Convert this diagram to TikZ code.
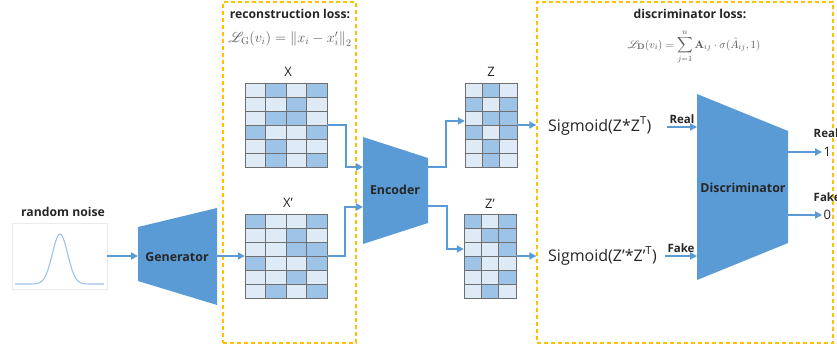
\documentclass[tikz,border=0pt]{standalone}
\usepackage{amsmath}
\usepackage{mathrsfs}
\usepackage[no-math]{fontspec}
\setmainfont{Open Sans}
\usetikzlibrary{arrows.meta}

\definecolor{blk}{HTML}{5B9BD5}
\definecolor{cellD}{HTML}{9DC3E6}
\definecolor{cellL}{HTML}{DEEBF7}
\definecolor{gridln}{HTML}{6F6F6F}
\definecolor{orng}{HTML}{FFC000}
\definecolor{txt}{HTML}{262626}
\definecolor{frm}{HTML}{595959}

% draws a matrix of cells: x0, y0, cell width, cell height, rows of 0/1
\newcommand\cellgrid[5]{%
  \foreach \row [count=\r] in {#5} {
    \foreach \v [count=\c] in \row {
      \ifnum\v=1 \def\cc{cellD}\else\def\cc{cellL}\fi
      \filldraw[fill=\cc, draw=gridln, line width=0.7pt]
        ({#1+(\c-1)*#3},{#2+(\r-1)*#4}) rectangle ++(#3,#4);
    }
  }
}

\begin{document}
\begin{tikzpicture}[x=1pt,y=-1pt,
  arr/.style={draw=blk, line width=1.8pt, -{Triangle[length=7pt,width=7pt]}},
  lossbox/.style={draw=orng, line width=1.4pt, dash pattern=on 4pt off 3pt,
    inner sep=0pt},
  blocklbl/.style={font=\bfseries\fontsize{12.4}{14}\selectfont, text=txt},
  lbl/.style={font=\bfseries\fontsize{11.5}{13}\selectfont, text=txt, inner sep=1.5pt},
  num/.style={font=\fontsize{13}{15}\selectfont, text=txt, inner sep=1.5pt},
  head/.style={font=\bfseries\fontsize{12.2}{14}\selectfont, text=txt, inner sep=0pt},
  mlbl/.style={font=\fontsize{13}{15}\selectfont, text=txt},
  sig/.style={font=\fontsize{16}{18}\selectfont, text=txt, inner sep=2pt},
  gridbox/.style={inner sep=0pt}
]
\useasboundingbox[fill=white] (0,0) rectangle (837,351);

% loss regions
\node[lossbox, minimum width=133pt, minimum height=341pt] (rloss) at (289.5,172.5) {};
\node[lossbox, minimum width=296pt, minimum height=341pt] (dloss) at (685,172.5) {};
\node[head] (rhead) at (290,14) {reconstruction loss:};
\node[text=frm, font=\fontsize{14.5}{16}\selectfont, inner sep=0pt] (rform) at (290,39)
  {$\mathscr{L}_{\mathrm{G}}(v_i) = \left\| x_i - x_i' \right\|_2$};
\node[head] (dhead) at (690,14) {discriminator loss:};
\node[text=frm, font=\fontsize{11}{13}\selectfont, inner sep=0pt] (dform) at (694,47)
  {$\displaystyle \mathscr{L}_{\mathbf{D}}(v_i) = \sum_{j=1}^{n} \mathbf{A}_{ij}\cdot\sigma(\hat{A}_{ij},1)$};

% random noise
\node[draw=black!8, line width=0.6pt, minimum width=95pt, minimum height=66pt] (noise) at (59.5,256) {};
\draw[cellD, line width=1.1pt] plot[domain=15:104, samples=90]
  (\x, {284-50*exp(-((\x-60)/7.6)^2/2)});
\node[head] (nlbl) at (63,212) {random noise};

% generator
\fill[blk] (138,227) -- (217,208) -- (217,305) -- (138,281) -- cycle;
\node[blocklbl] (gen) at (177,257) {Generator};
\coordinate (genin) at (138,256);
\coordinate (genout) at (217,256);

% matrices
\cellgrid{245}{83}{20.5}{14}{{0,1,0,1},{0,0,1,0},{0,1,1,0},{1,0,0,1},{0,1,0,0},{0,1,0,1}}
\cellgrid{245}{214}{20.5}{14}{{1,0,0,1},{0,0,1,0},{0,0,1,1},{1,0,0,1},{0,0,1,0},{0,1,0,1}}
\cellgrid{465}{83}{17.33}{14}{{0,1,0},{1,0,1},{0,1,1},{1,0,1},{0,1,0},{0,1,0}}
\cellgrid{464}{214}{17.33}{14}{{1,0,1},{0,1,1},{0,0,1},{1,0,0},{0,0,1},{0,1,0}}
\node[gridbox, minimum width=82pt, minimum height=84pt] (X) at (286,125) {};
\node[gridbox, minimum width=82pt, minimum height=84pt] (Xp) at (286,256) {};
\node[gridbox, minimum width=52pt, minimum height=84pt] (Z) at (491,125) {};
\node[gridbox, minimum width=52pt, minimum height=84pt] (Zp) at (490,256) {};
\node[mlbl] (Xl) at (288,72) {X};
\node[mlbl] (Xpl) at (288,203) {X’};
\node[mlbl] (Zl) at (491,72) {Z};
\node[mlbl] (Zpl) at (490,204) {Z’};

% encoder
\fill[blk] (363,137) -- (428,158) -- (428,223) -- (363,244) -- cycle;
\node[blocklbl] (enc) at (395,190) {Encoder};
\coordinate (encA) at (363,167);
\coordinate (encB) at (363,207);
\coordinate (encC) at (428,167);
\coordinate (encD) at (428,206);

% discriminator
\fill[blk] (697,94) -- (788,131) -- (788,243) -- (697,280) -- cycle;
\node[blocklbl] (disc) at (743,188) {Discriminator};
\coordinate (dinR) at (697,127);
\coordinate (dinF) at (697,256);
\coordinate (doutR) at (788,152);
\coordinate (doutF) at (788,215);

% sigmoid products
\node[sig, anchor=west] (s1) at (546,126) {Sigmoid(Z*Z\textsuperscript{T})};
\node[sig, anchor=west] (s2) at (546,256) {Sigmoid(Z’*Z’\textsuperscript{T})};

% outputs
\node[num, anchor=west] (o1) at (822,152) {1};
\node[num, anchor=west] (o0) at (822,215) {0};
\node[lbl, anchor=west] (oR) at (812,133) {Real};
\node[lbl, anchor=west] (oF) at (812,197) {Fake};

% connectors
\draw[arr] (noise.east) -- (genin);
\draw[arr] (genout) -- (Xp.west);
\draw[arr] (X.east) -- ++(19,0) |- (encA);
\draw[arr] (Xp.east) -- ++(18,0) |- (encB);
\draw[arr] (encC) -- ++(18,0) |- ([yshift=4pt]Z.west);
\draw[arr] (encD) -- ++(19,0) |- ([yshift=7pt]Zp.west);
\draw[arr] (Z.east) -- (Z.east -| dloss.west);
\draw[arr] (Zp.east) -- (Zp.east -| dloss.west);
\coordinate (rs) at (667,127);
\coordinate (fs) at (665,256);
\draw[arr] (rs) -- node[lbl, above=1pt] {Real} (dinR);
\draw[arr] (fs) -- node[lbl, above=1pt] {Fake} (dinF);
\draw[arr] (doutR) -- (o1.west);
\draw[arr] (doutF) -- (o0.west);
\end{tikzpicture}
\end{document}
